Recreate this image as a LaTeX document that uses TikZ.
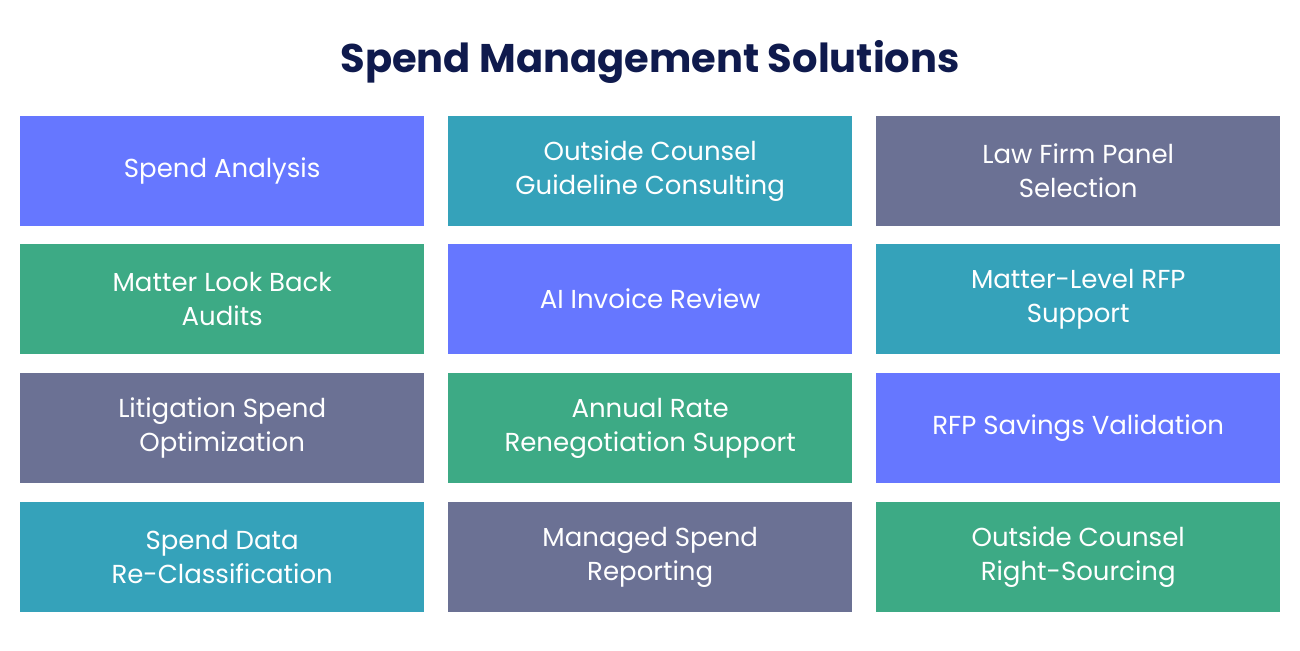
\documentclass[tikz,border=0pt]{standalone}
\usepackage{fontspec}
\setmainfont{Poppins}
\definecolor{cb}{HTML}{6677FF}
\definecolor{ct}{HTML}{35A2BA}
\definecolor{cs}{HTML}{6B7194}
\definecolor{cg}{HTML}{3DAA85}
\definecolor{navy}{HTML}{0F1A4D}
\begin{document}
\begin{tikzpicture}[x=1pt,y=-1pt,
  box/.style={fill=#1,minimum width=404pt,minimum height=110pt,inner sep=0pt,
    text=white,align=center,font=\fontsize{26}{34}\selectfont,anchor=north west}]
\useasboundingbox (0,0) rectangle (1300,650);
\node[font=\fontsize{40}{48}\selectfont\bfseries,text=navy] (title) at (650,62) {Spend Management Solutions};
\node[box=cb] (a1) at (20,116) {Spend Analysis};
\node[box=ct] (a2) at (448,116) {Outside Counsel\\Guideline Consulting};
\node[box=cs] (a3) at (876,116) {Law Firm Panel\\Selection};
\node[box=cg] (b1) at (20,244) {Matter Look Back\\Audits};
\node[box=cb] (b2) at (448,244) {AI Invoice Review};
\node[box=ct] (b3) at (876,244) {Matter-Level RFP\\Support};
\node[box=cs] (c1) at (20,373) {Litigation Spend\\Optimization};
\node[box=cg] (c2) at (448,373) {Annual Rate\\Renegotiation Support};
\node[box=cb] (c3) at (876,373) {RFP Savings Validation};
\node[box=ct] (d1) at (20,502) {Spend Data\\Re-Classification};
\node[box=cs] (d2) at (448,502) {Managed Spend\\Reporting};
\node[box=cg] (d3) at (876,502) {Outside Counsel\\Right-Sourcing};
\end{tikzpicture}
\end{document}
